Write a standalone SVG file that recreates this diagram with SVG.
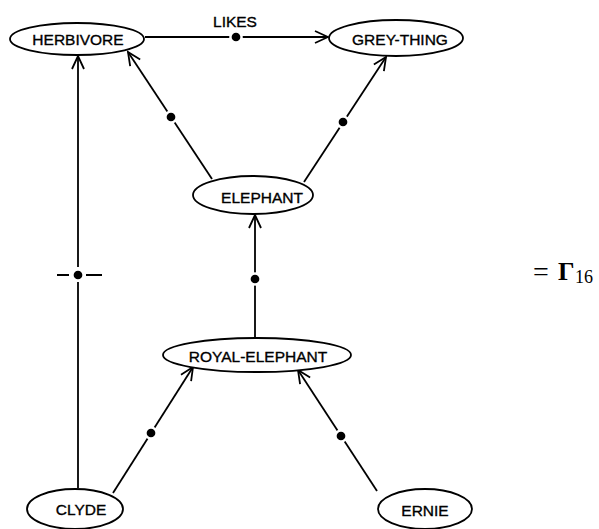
<svg xmlns="http://www.w3.org/2000/svg" width="599" height="529" viewBox="0 0 599 529">
  <style>
    .node ellipse { fill: #fff; stroke: #000; stroke-width: 1.8; }
    .node text, .lbl { font-family: "Liberation Sans", Arial, sans-serif; font-size: 15.5px; text-anchor: middle; fill: #000; stroke: #000; stroke-width: 0.35; }
    .edge { fill: none; stroke: #000; stroke-width: 1.8; }
    .dot { fill: #000; stroke: #fff; stroke-width: 2.5; }
    .formula { font-family: "Liberation Serif", "Times New Roman", serif; fill: #000; }
  </style>
  <defs>
    <marker id="open" markerUnits="userSpaceOnUse" markerWidth="16" markerHeight="16" viewBox="-14 -8 16 16" refX="0" refY="0" orient="auto">
      <path d="M-13,-6 L0,0 L-13,6" fill="none" stroke="#000" stroke-width="1.8"/>
    </marker>
  </defs>

  <g id="connectors">
    <path class="edge" d="M145,37 L328,37" marker-end="url(#open)"/>
    <circle class="dot" cx="236" cy="37" r="5.6"/>
    <text class="lbl" x="235" y="27">LIKES</text>

    <path class="edge" d="M212,179 L128,52" marker-end="url(#open)"/>
    <circle class="dot" cx="171" cy="117" r="5.6"/>

    <path class="edge" d="M304,182 L386,57" marker-end="url(#open)"/>
    <circle class="dot" cx="343" cy="122" r="5.6"/>

    <path class="edge" d="M255,337 L255,215" marker-end="url(#open)"/>
    <circle class="dot" cx="255" cy="279" r="5.6"/>

    <path class="edge" d="M113,493 L193,367" marker-end="url(#open)"/>
    <circle class="dot" cx="151" cy="433" r="5.6"/>

    <path class="edge" d="M377,491 L298,370" marker-end="url(#open)"/>
    <circle class="dot" cx="341" cy="436" r="5.6"/>

    <path class="edge" d="M78,488 L78,282"/>
    <path class="edge" d="M78,267 L78,56" marker-end="url(#open)"/>
    <circle class="dot" cx="78" cy="275" r="5.6"/>
    <path class="edge" d="M57,275 H69 M86,275 H102"/>
  </g>

  <g id="herbivore" class="node">
    <ellipse cx="77" cy="39" rx="67" ry="16"/>
    <text x="78" y="45">HERBIVORE</text>
  </g>
  <g id="grey-thing" class="node">
    <ellipse cx="396" cy="38" rx="67" ry="18"/>
    <text x="400" y="45">GREY-THING</text>
  </g>
  <g id="elephant" class="node">
    <ellipse cx="253" cy="195" rx="60" ry="19"/>
    <text x="262" y="203">ELEPHANT</text>
  </g>
  <g id="royal-elephant" class="node">
    <ellipse cx="257" cy="355" rx="94" ry="17"/>
    <text x="258" y="362">ROYAL-ELEPHANT</text>
  </g>
  <g id="clyde" class="node">
    <ellipse cx="75" cy="509" rx="48" ry="20"/>
    <text x="81" y="515">CLYDE</text>
  </g>
  <g id="ernie" class="node">
    <ellipse cx="425" cy="509" rx="47" ry="20"/>
    <text x="425" y="516">ERNIE</text>
  </g>

  <text class="formula" x="533" y="281" font-size="28">=</text>
  <text class="formula" x="558" y="280" font-size="26" font-weight="bold">Γ</text>
  <text class="formula" x="575" y="283" font-size="18">16</text>
</svg>
